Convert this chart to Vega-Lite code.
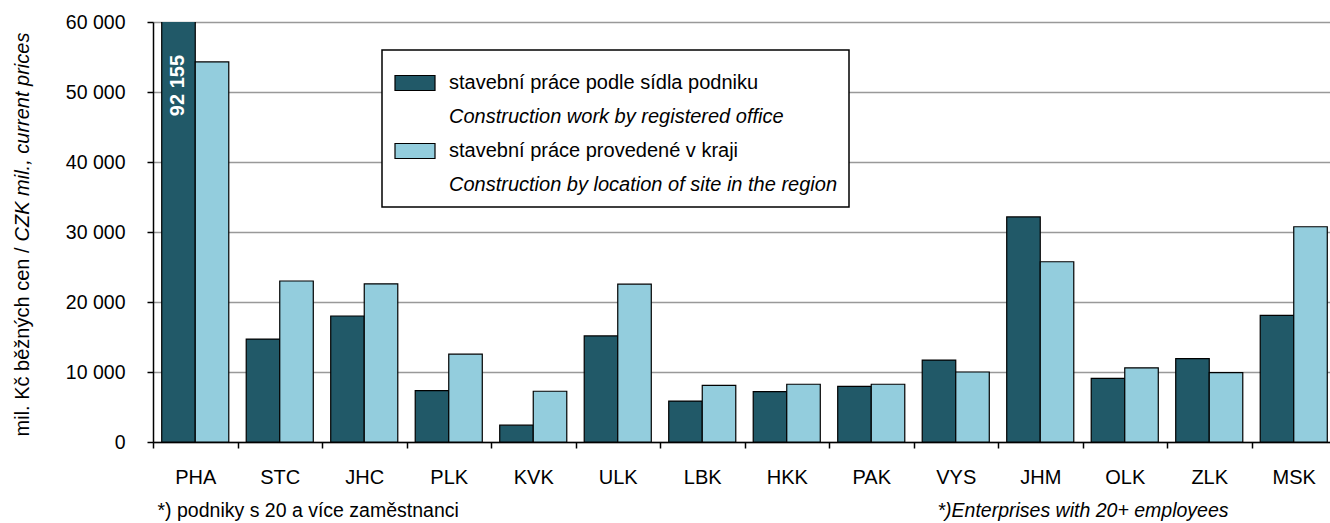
{
  "$schema": "https://vega.github.io/schema/vega-lite/v6.json",
  "width": 1183,
  "height": 420,
  "autosize": {"type": "none"},
  "padding": {"left": 153, "top": 22, "right": 0, "bottom": 81},
  "background": "white",
  "config": {"view": {"stroke": null}, "font": "Liberation Sans"},
  "layer": [
    {
      "data": {
        "values": [
          {"region": "PHA", "series": "stavební práce podle sídla podniku", "value": 92155},
          {"region": "PHA", "series": "stavební práce provedené v kraji", "value": 54300},
          {"region": "STC", "series": "stavební práce podle sídla podniku", "value": 14700},
          {"region": "STC", "series": "stavební práce provedené v kraji", "value": 23000},
          {"region": "JHC", "series": "stavební práce podle sídla podniku", "value": 18000},
          {"region": "JHC", "series": "stavební práce provedené v kraji", "value": 22600},
          {"region": "PLK", "series": "stavební práce podle sídla podniku", "value": 7350},
          {"region": "PLK", "series": "stavební práce provedené v kraji", "value": 12550},
          {"region": "KVK", "series": "stavební práce podle sídla podniku", "value": 2400},
          {"region": "KVK", "series": "stavební práce provedené v kraji", "value": 7250},
          {"region": "ULK", "series": "stavební práce podle sídla podniku", "value": 15150},
          {"region": "ULK", "series": "stavební práce provedené v kraji", "value": 22550},
          {"region": "LBK", "series": "stavební práce podle sídla podniku", "value": 5850},
          {"region": "LBK", "series": "stavební práce provedené v kraji", "value": 8100},
          {"region": "HKK", "series": "stavební práce podle sídla podniku", "value": 7200},
          {"region": "HKK", "series": "stavební práce provedené v kraji", "value": 8250},
          {"region": "PAK", "series": "stavební práce podle sídla podniku", "value": 7950},
          {"region": "PAK", "series": "stavební práce provedené v kraji", "value": 8250},
          {"region": "VYS", "series": "stavební práce podle sídla podniku", "value": 11700},
          {"region": "VYS", "series": "stavební práce provedené v kraji", "value": 10000},
          {"region": "JHM", "series": "stavební práce podle sídla podniku", "value": 32150},
          {"region": "JHM", "series": "stavební práce provedené v kraji", "value": 25750},
          {"region": "OLK", "series": "stavební práce podle sídla podniku", "value": 9100},
          {"region": "OLK", "series": "stavební práce provedené v kraji", "value": 10600},
          {"region": "ZLK", "series": "stavební práce podle sídla podniku", "value": 11900},
          {"region": "ZLK", "series": "stavební práce provedené v kraji", "value": 9900},
          {"region": "MSK", "series": "stavební práce podle sídla podniku", "value": 18100},
          {"region": "MSK", "series": "stavební práce provedené v kraji", "value": 30750}
        ]
      },
      "mark": {"type": "bar", "clip": true, "stroke": "black", "strokeWidth": 1.2},
      "encoding": {
        "x": {
          "field": "region",
          "type": "nominal",
          "scale": {
            "domain": ["PHA", "STC", "JHC", "PLK", "KVK", "ULK", "LBK", "HKK", "PAK", "VYS", "JHM", "OLK", "ZLK", "MSK"],
            "paddingInner": 0,
            "paddingOuter": 0
          },
          "axis": {
            "orient": "bottom",
            "title": "*)Enterprises with  20+ employees",
            "titleFontStyle": "italic",
            "titleFontWeight": "normal",
            "titleFontSize": 19.5,
            "titleColor": "black",
            "titleX": 784,
            "titleY": 68,
            "titleAlign": "left",
            "titleBaseline": "middle",
            "labelAngle": 0,
            "labelFontSize": 20,
            "labelPadding": 19,
            "labelColor": "black",
            "tickBand": "extent",
            "tickSize": 6,
            "tickColor": "black",
            "tickWidth": 1.5,
            "domainColor": "black",
            "domainWidth": 1.5,
            "grid": false
          }
        },
        "xOffset": {
          "field": "series",
          "type": "nominal",
          "scale": {
            "domain": ["stavební práce podle sídla podniku", "stavební práce provedené v kraji"],
            "paddingOuter": 0.26,
            "paddingInner": 0
          }
        },
        "y": {
          "field": "value",
          "type": "quantitative",
          "scale": {"domain": [0, 60000], "nice": false},
          "axis": {
            "orient": "left",
            "values": [0, 10000, 20000, 30000, 40000, 50000, 60000],
            "labelExpr": "replace(format(datum.value, ','), ',', ' ')",
            "labelFontSize": 19.5,
            "labelPadding": 22,
            "labelColor": "black",
            "tickSize": 6,
            "tickColor": "black",
            "tickWidth": 1.5,
            "domainColor": "black",
            "domainWidth": 1.5,
            "grid": true,
            "gridColor": "#999999",
            "gridWidth": 1.5,
            "title": "mil. Kč běžných cen /",
            "titleFontSize": 20,
            "titleFontWeight": "normal",
            "titleColor": "black",
            "titleX": -131,
            "titleY": 225,
            "titleAlign": "right",
            "titleBaseline": "middle",
            "titleAngle": 270
          }
        },
        "color": {
          "field": "series",
          "type": "nominal",
          "scale": {
            "domain": [
              "stavební práce podle sídla podniku",
              "Construction work by registered office",
              "stavební práce provedené v kraji",
              "Construction by location of site in the region"
            ],
            "range": ["#215968", "#ffffff", "#93cddd", "#ffffff"]
          },
          "legend": {
            "orient": "none",
            "legendX": 229,
            "legendY": 28,
            "title": null,
            "direction": "vertical",
            "symbolType": "M-1,-0.375H1V0.375H-1Z",
            "symbolSize": 1600,
            "symbolStrokeColor": "black",
            "symbolStrokeWidth": 1.2,
            "symbolOpacity": 1,
            "labelFontSize": 20,
            "labelFont": "Liberation Sans",
            "labelColor": "black",
            "labelOffset": 13,
            "labelLimit": 0,
            "rowPadding": 3,
            "padding": 12,
            "strokeColor": "black",
            "fillColor": "white",
            "encode": {
              "legend": {"update": {"strokeWidth": {"value": 1.5}}},
              "symbols": {"update": {"opacity": {"signal": "indexof(datum.label, 'Construction') === 0 ? 0 : 1"}}},
              "labels": {"update": {"fontStyle": {"signal": "indexof(datum.label, 'Construction') === 0 ? 'italic' : 'normal'"}}}
            }
          }
        }
      }
    },
    {
      "data": {
        "values": [
          {"region": "PHA", "series": "stavební práce podle sídla podniku", "label": "92 155"}
        ]
      },
      "mark": {
        "type": "text",
        "angle": 270,
        "align": "right",
        "baseline": "middle",
        "dx": -33,
        "fontSize": 20,
        "fontWeight": "bold",
        "color": "white"
      },
      "encoding": {
        "x": {
          "field": "region",
          "type": "nominal",
          "axis": {
            "orient": "bottom",
            "title": "*) podniky s 20 a více zaměstnanci",
            "titleFontWeight": "normal",
            "titleFontSize": 19.5,
            "titleColor": "black",
            "titleX": 4,
            "titleY": 68,
            "titleAlign": "left",
            "titleBaseline": "middle",
            "labels": false,
            "ticks": false,
            "domain": false,
            "grid": false
          }
        },
        "xOffset": {"field": "series", "type": "nominal"},
        "y": {
          "datum": 60000,
          "type": "quantitative",
          "axis": {
            "orient": "left",
            "title": "CZK mil., current prices",
            "titleFontStyle": "italic",
            "titleFontWeight": "normal",
            "titleFontSize": 20,
            "titleColor": "black",
            "titleX": -131,
            "titleY": 219,
            "titleAlign": "left",
            "titleBaseline": "middle",
            "titleAngle": 270,
            "labels": false,
            "ticks": false,
            "domain": false,
            "grid": false
          }
        },
        "text": {"field": "label"}
      }
    }
  ],
  "resolve": {"axis": {"x": "independent", "y": "independent"}}
}
